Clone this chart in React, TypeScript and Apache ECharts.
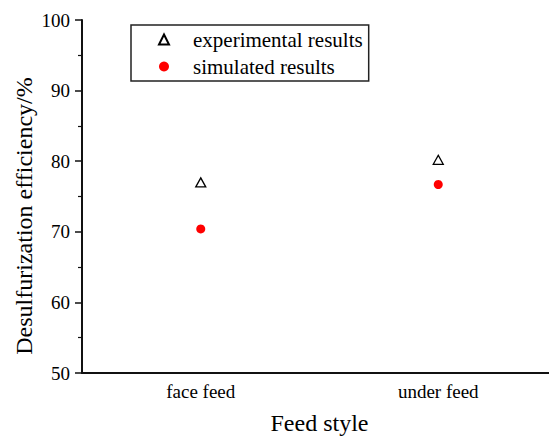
import React, { useEffect, useRef } from "react";
import * as echarts from "echarts";

const categories = ["face feed", "under feed"];
const experimental = [77.0, 80.2];
const simulated = [70.4, 76.7];
const yTicks = { min: 50, max: 100, interval: 10 };

const FONT = "Liberation Serif";

export default function App() {
  const ref = useRef<HTMLDivElement>(null);
  useEffect(() => {
    if (!ref.current) return;
    const chart = echarts.init(ref.current, null, { renderer: "svg" });
    chart.setOption({
      animation: false,
      backgroundColor: "#fff",
      textStyle: { fontFamily: FONT, color: "#000" },
      grid: { left: 82, top: 20, width: 475, height: 353, outerBoundsMode: "none" },
      legend: {
        orient: "vertical",
        left: 131,
        top: 25,
        padding: [4, 6, 4, 27],
        itemWidth: 10,
        itemHeight: 10,
        itemGap: 6,
        borderColor: "#222",
        borderWidth: 1.5,
        textStyle: {
          fontFamily: FONT,
          fontSize: 21,
          lineHeight: 21,
          color: "#000",
          padding: [0, 0, 0, 19],
        },
        data: ["experimental results", "simulated results"],
      },
      xAxis: {
        type: "category",
        data: categories,
        boundaryGap: true,
        name: "Feed style",
        nameLocation: "middle",
        nameGap: 38,
        nameTextStyle: { fontFamily: FONT, fontSize: 24, lineHeight: 24, color: "#000" },
        axisLine: { lineStyle: { color: "#111", width: 2 } },
        axisTick: { alignWithLabel: true, length: 5, lineStyle: { color: "#111", width: 1.5 } },
        axisLabel: { fontFamily: FONT, fontSize: 19, color: "#000", margin: 9 },
        splitLine: { show: false },
      },
      yAxis: {
        type: "value",
        min: yTicks.min,
        max: yTicks.max,
        interval: yTicks.interval,
        axisLine: { show: true, lineStyle: { color: "#111", width: 2 } },
        axisTick: { show: true, length: 7, lineStyle: { color: "#111", width: 1.5 } },
        minorTick: { show: true, splitNumber: 2, length: 4, lineStyle: { color: "#111", width: 1.2 } },
        axisLabel: { fontFamily: FONT, fontSize: 19, color: "#000", margin: 12 },
        splitLine: { show: false },
      },
      graphic: [
        {
          type: "text",
          x: 24,
          y: 216,
          rotation: Math.PI / 2,
          style: {
            text: "Desulfurization efficiency/%",
            fontFamily: FONT,
            fontSize: 24,
            fill: "#000",
            align: "center",
            verticalAlign: "middle",
          },
        },
      ],
      series: [
        {
          name: "experimental results",
          type: "scatter",
          data: experimental,
          symbol: "triangle",
          symbolSize: [10, 9],
          itemStyle: { color: "#fff", borderColor: "#000", borderWidth: 1.3, opacity: 1 },
        },
        {
          name: "simulated results",
          type: "scatter",
          data: simulated,
          symbol: "circle",
          symbolSize: 9,
          itemStyle: { color: "#ff0000", opacity: 1 },
        },
      ],
    });
    return () => chart.dispose();
  }, []);
  return <div ref={ref} style={{ width: 549, height: 437, position: "absolute", left: 0, top: 0 }} />;
}
